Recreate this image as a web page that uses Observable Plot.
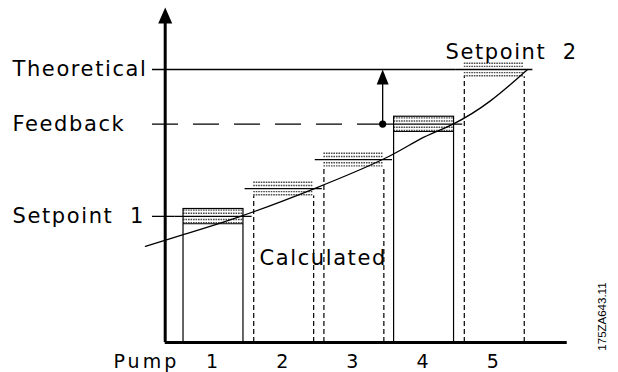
<!DOCTYPE html>
<html><head><meta charset="utf-8">
<script src="https://cdn.jsdelivr.net/npm/d3@7"></script>
<script src="https://cdn.jsdelivr.net/npm/@observablehq/plot@0.6"></script>
<style>html,body{margin:0;padding:0;background:#fff}</style>
</head><body><div id="chart"></div>
<script>
// ---- data ----
const pumps = [1, 2, 3, 4, 5];
const pumpLabels = ["1", "2", "3", "4", "5"];
const pumpLevels = [46.2, 56.4, 67.0, 80.0, 100.0];
const pumpRunning = [true, false, false, true, false];
const refLabels = ["Theoretical", "Feedback", "Setpoint  1"];
const refLevels = [100, 80, 46.2];
const refDashed = [false, true, false];
const curveX = [0.03, 0.57, 1.385, 2.43, 3.43, 3.95, 4.42, 4.95, 5.47];
const curveY = [35.2, 39.5, 46.2, 56.3, 67.3, 74.6, 80.1, 88.6, 99.9];
const feedbackX = 3.41;
const axisTop = 122.7;
const xAxisLabel = "Pump";
const setpoint2Label = "Setpoint  2";
const calculatedLabel = "Calculated";
const drawingCode = "175ZA643.11";

// ---- derived geometry (data units) ----
const barHalf = 0.427, lineHalf = 0.55, band = 2.7;
const axisX = 0.312, axisXEnd = 6.04, refStart = 0.131;
const labelLeftX = -1.863;

const pumpData = pumps.map((p, i) => ({p, level: pumpLevels[i], running: pumpRunning[i], label: pumpLabels[i]}));
const hatchRows = pumpData.flatMap(d => [0.85, 0.42, -0.42, -0.85].map(k => ({x1: d.p - barHalf, x2: d.p + barHalf, y: d.level + k * band})));
const refData = refLabels.map((label, i) => {
  const lv = refLevels[i];
  let end;
  if (refDashed[i]) end = feedbackX;
  else { const pi = pumpLevels.indexOf(lv); end = pumps[pi] - lineHalf; }
  return {label, level: lv, dashed: refDashed[i], end};
});
const curve = curveX.map((x, i) => ({x, y: curveY[i]}));

const head = (w, h) => ({draw(ctx) { ctx.moveTo(0, 0); ctx.lineTo(w / 2, h); ctx.lineTo(-w / 2, h); ctx.closePath(); }});

const plot = Plot.plot({
  width: 618, height: 372,
  margin: 0,
  x: {domain: [0, 6.2], range: [142.8, 578], axis: null},
  y: {domain: [0, 125], range: [342, 0.75], axis: null},
  style: {background: "white", fontFamily: "DejaVu Sans", letterSpacing: "1.6px", color: "black"},
  marks: [
    // hatch rows
    Plot.ruleY(hatchRows, {x1: "x1", x2: "x2", y: "y", stroke: "#4a4a4a", strokeWidth: 1.4, strokeDasharray: "1.6,0.9"}),
    // solid (running) bars
    Plot.rect(pumpData.filter(d => d.running), {x1: d => d.p - barHalf, x2: d => d.p + barHalf, y1: 0, y2: d => d.level + band, stroke: "black", fill: "none", strokeWidth: 1.2}),
    Plot.ruleY(pumpData.filter(d => d.running), {x1: d => d.p - barHalf, x2: d => d.p + barHalf, y: d => d.level - band, stroke: "black", strokeWidth: 1}),
    // dashed (calculated) bars
    Plot.ruleX(pumpData.filter(d => !d.running).flatMap(d => [d.p - barHalf, d.p + barHalf].map(x => ({x, top: d.level - band}))), {x: "x", y1: 0, y2: "top", stroke: "black", strokeWidth: 1.2, strokeDasharray: "5,3"}),
    // pump level lines
    Plot.ruleY(pumpData, {x1: d => d.p - lineHalf, x2: d => d.p + lineHalf, y: "level", stroke: "black", strokeWidth: 1.3}),
    // reference lines
    Plot.ruleY(refData.filter(d => !d.dashed), {x1: refStart, x2: "end", y: "level", stroke: "black", strokeWidth: 1.3}),
    Plot.ruleY(refData.filter(d => d.dashed), {x1: refStart, x2: "end", y: "level", stroke: "black", strokeWidth: 1.4, strokeDasharray: "26,15"}),
    // curve
    Plot.line(curve, {x: "x", y: "y", curve: "natural", stroke: "black", strokeWidth: 1.3}),
    // feedback arrow
    Plot.ruleX([feedbackX], {y1: 80, y2: 95, stroke: "black", strokeWidth: 1.3}),
    Plot.dot([{x: feedbackX, y: 100}], {x: "x", y: "y", symbol: head(12, 15), fill: "black", stroke: "none"}),
    Plot.dot([{x: feedbackX, y: 80}], {x: "x", y: "y", r: 3.6, fill: "black", stroke: "none"}),
    // axes
    Plot.ruleY([0], {x1: axisX, x2: axisXEnd, strokeWidth: 3, stroke: "black"}),
    Plot.ruleX([axisX], {y1: 0, y2: 118, strokeWidth: 3, stroke: "black"}),
    Plot.dot([{x: axisX, y: axisTop}], {x: "x", y: "y", symbol: head(14, 16), fill: "black", stroke: "none"}),
    // labels
    Plot.text(refData, {x: labelLeftX, y: "level", text: "label", textAnchor: "start", fontSize: 21, fill: "black"}),
    Plot.text([setpoint2Label], {x: 4.305, y: 106.4, text: d => d, textAnchor: "start", fontSize: 21, fill: "black"}),
    Plot.text([calculatedLabel], {x: 1.655, y: 30.8, text: d => d, textAnchor: "start", fontSize: 21, fill: "black"}),
    Plot.text([xAxisLabel], {x: -0.425, y: -7.0, text: d => d, textAnchor: "start", fontSize: 19, fill: "black"}),
    Plot.text(pumpData, {x: "p", y: -7.0, text: "label", fontSize: 19, fill: "black"}),
    Plot.text([drawingCode], {x: 6.539, y: 9.5, text: d => d, rotate: -90, fontSize: 11.5, fontFamily: "Liberation Sans", fill: "black"})
  ]
});
d3.select(plot).selectAll("text").each(function() {
  if (this.textContent === drawingCode) this.style.letterSpacing = "0px";
  if (this.textContent === xAxisLabel || pumpLabels.includes(this.textContent)) this.style.letterSpacing = "3px";
});
document.getElementById("chart").appendChild(plot);
</script>
</body></html>
